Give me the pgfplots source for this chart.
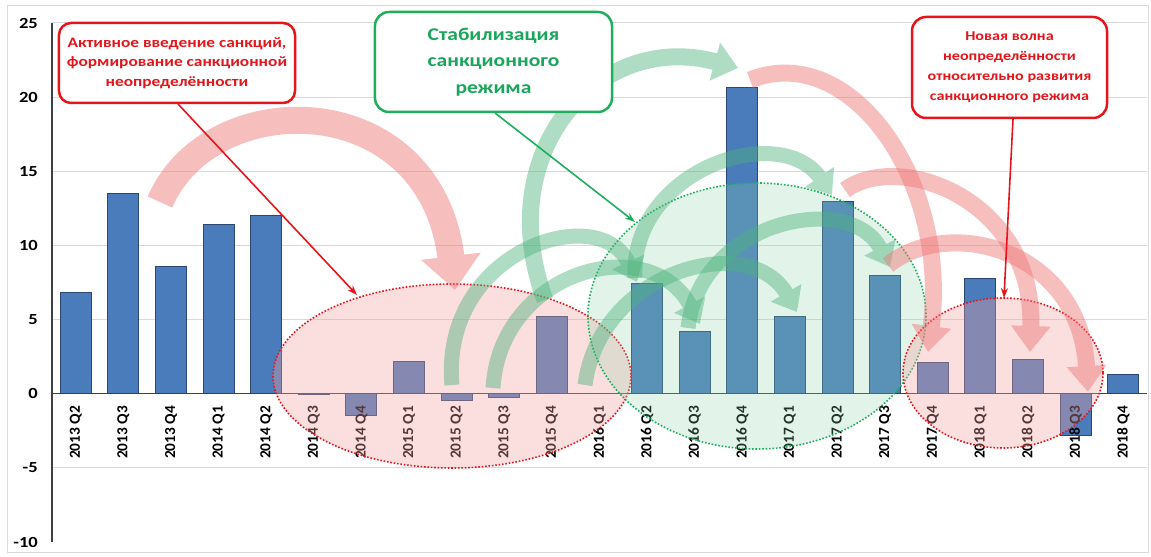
\documentclass[border=0pt]{standalone}
\usepackage{fontspec}
\usepackage{pgfplots}
\pgfplotsset{compat=1.18}
\usetikzlibrary{arrows.meta}
\newfontfamily\cf[FakeStretch=1.2]{Carlito}
\newfontfamily\cfn{Carlito}
\definecolor{gridgray}{HTML}{D9D9D9}
\definecolor{axgray}{HTML}{404040}
\definecolor{barF}{HTML}{4A7CBB}
\definecolor{barE}{HTML}{2A4872}
\definecolor{redline}{HTML}{E8141B}
\definecolor{redtext}{HTML}{E3161B}
\definecolor{greenline}{HTML}{1DAF5B}
\definecolor{greentext}{HTML}{1AA65A}
\definecolor{pinkfill}{HTML}{F4A0A0}
\definecolor{mintfill}{HTML}{8CD3AA}
\definecolor{redarrow}{HTML}{EE7777}
\definecolor{greenarrow}{HTML}{4DB37D}
\begin{document}
\begin{tikzpicture}
\path (0,0) rectangle (1151bp,557bp);
\begin{axis}[
  axis on top,
  at={(52bp,15bp)}, anchor=south west,
  scale only axis, width=1095bp, height=519bp,
  xmin=-0.5, xmax=22.5, ymin=-10, ymax=25,
  axis x line=middle, axis y line=left,
  axis line style={-},
  x axis line style={draw=axgray, line width=1.5bp},
  y axis line style={draw=axgray, line width=1.5bp},
  hide obscured x ticks=false, hide obscured y ticks=false,
  xtick={0,...,22},
  xticklabels={2013 Q2,2013 Q3,2013 Q4,2014 Q1,2014 Q2,2014 Q3,2014 Q4,2015 Q1,2015 Q2,2015 Q3,2015 Q4,2016 Q1,2016 Q2,2016 Q3,2016 Q4,2017 Q1,2017 Q2,2017 Q3,2017 Q4,2018 Q1,2018 Q2,2018 Q3,2018 Q4},
  ytick={-10,-5,0,5,10,15,20,25},
  major tick length=0pt,
  /pgf/number format/assume math mode=true,
  yticklabel style={font=\cf\bfseries\fontsize{15.5}{16}\selectfont, anchor=east, inner sep=0pt, xshift=-14bp},
  xticklabel style={font=\cfn\bfseries\fontsize{15.4}{16}\selectfont, yshift=-12bp, rotate=90, anchor=east, inner sep=0pt},
]
\pgfplotsinvokeforeach{-10,-5,5,10,15,20,25}{
  \draw[gridgray, line width=1bp] (axis cs:-0.5,#1) -- (axis cs:22.5,#1);
}
\addplot[ybar, bar width=31bp, draw=barE, line width=1bp, fill=barF]
coordinates {
(0,6.8) (1,13.5) (2,8.6) (3,11.4) (4,12.0) (5,-0.05) (6,-1.45) (7,2.2) (8,-0.45) (9,-0.25) (10,5.2) (11,0)
(12,7.4) (13,4.2) (14,20.65) (15,5.2) (16,12.93) (17,8.0) (18,2.08) (19,7.78) (20,2.33) (21,-2.8) (22,1.31)
};
\end{axis}
\begin{scope}[x=1bp, y=-1bp, shift={(0bp,557bp)}]
% outer frame
\draw[gridgray, line width=1bp] (7,6) rectangle (1148,553);
% ellipses
\fill[pinkfill, fill opacity=0.35] (452,376) ellipse [x radius=179, y radius=92];
\draw[redline, line width=1.6bp, dash pattern=on 1.6bp off 1.8bp] (452,376) ellipse [x radius=179, y radius=92];
\fill[mintfill, fill opacity=0.25] (757,316) ellipse [x radius=169, y radius=133];
\draw[greenline, line width=1.6bp, dash pattern=on 1.6bp off 1.8bp] (757,316) ellipse [x radius=169, y radius=133];
\fill[pinkfill, fill opacity=0.35] (1003,373) ellipse [x radius=100, y radius=75];
\draw[redline, line width=1.6bp, dash pattern=on 1.6bp off 1.8bp] (1003,373) ellipse [x radius=100, y radius=75];
% green arrows
\begin{scope}[transparency group, opacity=0.45]
\draw[greenarrow, line width=17bp, -{Triangle[length=24bp, width=38bp]}] (545,300) .. controls (490,150) and (600,30) .. (738,68);
\end{scope}
\begin{scope}[transparency group, opacity=0.45]
\draw[greenarrow, line width=15bp, -{Triangle[length=22bp, width=34bp]}] (452,385) .. controls (440,250) and (600,200) .. (637,282);
\end{scope}
\begin{scope}[transparency group, opacity=0.45]
\draw[greenarrow, line width=15bp, -{Triangle[length=22bp, width=34bp]}] (493,388) .. controls (500,270) and (650,230) .. (700,324);
\end{scope}
\begin{scope}[transparency group, opacity=0.45]
\draw[greenarrow, line width=15bp, -{Triangle[length=22bp, width=34bp]}] (585,385) .. controls (600,270) and (750,230) .. (797,312);
\end{scope}
\begin{scope}[transparency group, opacity=0.45]
\draw[greenarrow, line width=15bp, -{Triangle[length=22bp, width=34bp]}] (635,278) .. controls (630,170) and (780,120) .. (832,195);
\end{scope}
\begin{scope}[transparency group, opacity=0.45]
\draw[greenarrow, line width=15bp, -{Triangle[length=22bp, width=34bp]}] (688,328) .. controls (700,220) and (850,190) .. (890,267);
\end{scope}
% red arrows
\begin{scope}[transparency group, opacity=0.48]
\draw[redarrow, line width=27bp, -{Triangle[length=34bp, width=58bp]}] (160,202) .. controls (210,85) and (430,85) .. (455,290);
\end{scope}
\begin{scope}[transparency group, opacity=0.48]
\draw[redarrow, line width=17bp, -{Triangle[length=26bp, width=38bp]}] (750,80) .. controls (850,40) and (950,180) .. (928,352);
\end{scope}
\begin{scope}[transparency group, opacity=0.48]
\draw[redarrow, line width=17bp, -{Triangle[length=26bp, width=38bp]}] (845,190) .. controls (900,150) and (1035,200) .. (1030,352);
\end{scope}
\begin{scope}[transparency group, opacity=0.48]
\draw[redarrow, line width=17bp, -{Triangle[length=26bp, width=38bp]}] (888,265) .. controls (950,215) and (1080,250) .. (1088,392);
\end{scope}
% boxes
\node[draw=redline, fill=white, line width=2.5bp, rounded corners=12bp, minimum width=236bp, minimum height=80bp, align=center, inner sep=0pt, text=redtext, font=\cf\bfseries\fontsize{14.5}{19.5}\selectfont] at (177,63) {Активное введение санкций,\\формирование санкционной\\неопределённости};
\node[draw=greenline, fill=white, line width=2.5bp, rounded corners=14bp, minimum width=237bp, minimum height=100bp, align=center, inner sep=0pt, text=greentext, font=\cf\bfseries\fontsize{18}{26.5}\selectfont] at (493.5,62) {Стабилизация\\санкционного\\режима};
\node[draw=redline, fill=white, line width=2.5bp, rounded corners=14bp, minimum width=195bp, minimum height=101bp, align=center, inner sep=0pt, text=redtext, font=\cf\bfseries\fontsize{13.5}{20}\selectfont] at (1009.5,67.5) {Новая волна\\неопределённости\\относительно развития\\санкционного режима};
% callout lines
\draw[redline, line width=1.6bp, -{Stealth[length=10bp, width=7bp]}] (178,104) -- (357,295);
\draw[greenline, line width=1.6bp, -{Stealth[length=10bp, width=7bp]}] (495,113) -- (635,222);
\draw[redline, line width=1.6bp, -{Stealth[length=10bp, width=7bp]}] (1013,119) -- (1004,298);
\end{scope}
\end{tikzpicture}
\end{document}
